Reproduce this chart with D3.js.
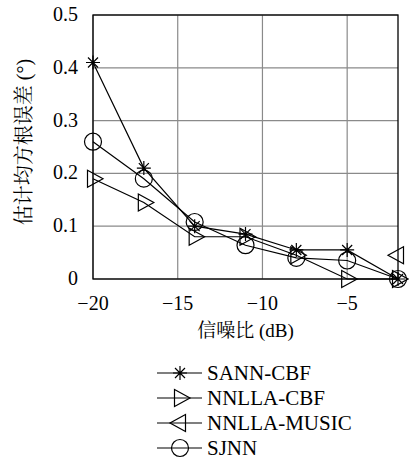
<!DOCTYPE html>
<html>
<head>
<meta charset="utf-8">
<script src="https://cdn.jsdelivr.net/npm/d3@7"></script>
<style>
  body { margin: 0; background: #fff; }
</style>
</head>
<body>
<script>
// data
var snr = [-20, -17, -14, -11, -8, -5, -2];
var sannCbf = [0.41, 0.21, 0.10, 0.085, 0.055, 0.055, 0];
var nnllaCbf = [0.19, 0.145, 0.08, 0.08, 0.045, 0, 0];
var nnllaMusic = [null, null, null, null, null, null, 0.045];
var sjnn = [0.26, 0.19, 0.108, 0.064, 0.04, 0.035, 0];
var xTicks = [-20, -15, -10, -5];
var yTicks = [0, 0.1, 0.2, 0.3, 0.4, 0.5];
var seriesNames = ["SANN-CBF", "NNLLA-CBF", "NNLLA-MUSIC", "SJNN"];
var seriesMarkers = ["star", "right", "left", "circle"];

var serif = "Liberation Serif";
var cjk = "Noto Serif CJK SC";

var margin = {top: 15, right: 11, bottom: 183, left: 93},
    W = 409, H = 462,
    width = W - margin.left - margin.right,
    height = H - margin.top - margin.bottom;

var svg = d3.select("body").append("svg")
    .attr("width", W)
    .attr("height", H);

var g = svg.append("g")
    .attr("transform", "translate(" + margin.left + "," + margin.top + ")");

var x = d3.scaleLinear().domain([-20, -2]).range([0, width]);
var y = d3.scaleLinear().domain([0, 0.5]).range([height, 0]);

// grid
g.selectAll(".vgrid").data(xTicks).enter().append("line")
    .attr("x1", d => x(d)).attr("x2", d => x(d))
    .attr("y1", 0).attr("y2", height)
    .attr("stroke", "#8a8a8a").attr("stroke-width", 1.2);
g.selectAll(".hgrid").data(yTicks).enter().append("line")
    .attr("x1", 0).attr("x2", width)
    .attr("y1", d => y(d)).attr("y2", d => y(d))
    .attr("stroke", "#8a8a8a").attr("stroke-width", 1.2);

// box
g.append("rect")
    .attr("width", width).attr("height", height)
    .attr("fill", "none").attr("stroke", "#000").attr("stroke-width", 1.3);

// tick labels
var fmtX = d => String(d).replace("-", "\u2212");
g.selectAll(".xt").data(xTicks).enter().append("text")
    .attr("x", d => x(d)).attr("y", height + 31)
    .attr("text-anchor", "middle")
    .attr("font-family", serif)
    .attr("font-size", 20)
    .text(fmtX);
g.selectAll(".yt").data(yTicks).enter().append("text")
    .attr("x", -15).attr("y", d => y(d) + 6)
    .attr("text-anchor", "end")
    .attr("font-family", serif)
    .attr("font-size", 20)
    .text(d => d === 0 ? "0" : d3.format(".1f")(d));

// axis titles
var xt = g.append("text")
    .attr("x", width / 2).attr("y", height + 58)
    .attr("text-anchor", "middle")
    .attr("font-size", 19);
xt.append("tspan").attr("font-family", cjk).text("信噪比");
xt.append("tspan").attr("font-family", serif).text(" (dB)");

var yt = svg.append("text")
    .attr("transform", "translate(31," + (margin.top + 127) + ") rotate(-90)")
    .attr("text-anchor", "middle")
    .attr("font-size", 20);
yt.append("tspan").attr("font-family", cjk).text("估计均方根误差");
yt.append("tspan").attr("font-family", serif).text(" (°)");

// marker drawing
function drawMarker(sel, type) {
  if (type === "star") {
    var a = 7, b = 5;
    sel.append("path").attr("d",
      "M" + (-a) + ",0L" + a + ",0M0," + (-a) + "L0," + a +
      "M" + (-b) + "," + (-b) + "L" + b + "," + b + "M" + (-b) + "," + b + "L" + b + "," + (-b))
      .attr("stroke", "#000").attr("stroke-width", 1.2).attr("fill", "none");
  } else if (type === "circle") {
    sel.append("circle").attr("r", 8.5)
      .attr("stroke", "#000").attr("stroke-width", 1.2).attr("fill", "none");
  } else if (type === "right") {
    sel.append("path").attr("d", "M-5.5,-8.5L10,0L-5.5,8.5Z")
      .attr("stroke", "#000").attr("stroke-width", 1.2).attr("fill", "none");
  } else if (type === "left") {
    sel.append("path").attr("d", "M5.5,-8.5L-10,0L5.5,8.5Z")
      .attr("stroke", "#000").attr("stroke-width", 1.2).attr("fill", "none");
  }
}

var allSeries = [sannCbf, nnllaCbf, nnllaMusic, sjnn];
var line = d3.line()
    .defined(d => d.v !== null)
    .x(d => x(d.x)).y(d => y(d.v));

allSeries.forEach(function(vals, i) {
  var pts = snr.map((s, j) => ({x: s, v: vals[j]}));
  g.append("path").datum(pts)
    .attr("d", line)
    .attr("fill", "none").attr("stroke", "#000").attr("stroke-width", 1.2);
  pts.filter(p => p.v !== null).forEach(function(p) {
    var m = g.append("g").attr("transform", "translate(" + x(p.x) + "," + y(p.v) + ")");
    drawMarker(m, seriesMarkers[i]);
  });
});

// legend
var legend = svg.append("g").attr("transform", "translate(157,373)");
seriesNames.forEach(function(name, i) {
  var row = legend.append("g").attr("transform", "translate(0," + (i * 25) + ")");
  row.append("line").attr("x1", 0).attr("x2", 45).attr("y1", 0).attr("y2", 0)
    .attr("stroke", "#000").attr("stroke-width", 1.2);
  var m = row.append("g").attr("transform", "translate(23,0)");
  drawMarker(m, seriesMarkers[i]);
  row.append("text").attr("x", 50).attr("y", 7)
    .attr("font-family", serif)
    .attr("font-size", 21)
    .text(name);
});
</script>
</body>
</html>
